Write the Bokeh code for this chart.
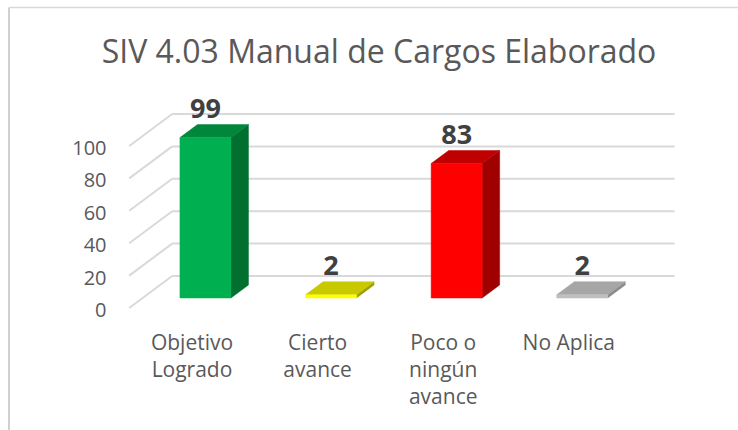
from bokeh.plotting import figure
from bokeh.models import Range1d, Label
from bokeh.core.properties import value
from bokeh.embed import file_html
from bokeh.resources import INLINE

# ---- data ----
title_text = "SIV 4.03 Manual de Cargos Elaborado"
categories = ["Objetivo\nLogrado", "Cierto\navance", "Poco o\nningún\navance", "No Aplica"]
values = [99, 2, 83, 2]
y_ticks = [0, 20, 40, 60, 80, 100]

# ---- styles ----
front_colors = ["#00B050", "#FFFF00", "#FF0000", "#BFBFBF"]
top_colors = ["#00873C", "#C9C900", "#C00000", "#A6A6A6"]
side_colors = ["#006F30", "#9E9E00", "#A00000", "#8A8A8A"]
text_gray = "#595959"
grid_gray = "#D9D9D9"
FONT = "Open Sans"

W, H = 738, 430
# layout: pixel position of category 0 / value 0 on the front plane, and scale
X0, SX = 191.5, 125.6
Y0, SY = 307.5, 1.62


def px_x(px):
    return (px - X0) / SX


def px_y(py):
    return (Y0 - py) / SY


# pseudo-3D projection (depth offsets expressed in data units)
DX = 43 / SX      # full depth horizontal shift
DY = 32 / SY      # full depth vertical shift
D_FRONT, D_BACK = 0.3125, 0.72
HALF = 0.203
X_LEFT, X_RIGHT = -0.5, len(categories) - 0.5

p = figure(width=W, height=H,
           x_range=Range1d(px_x(0), px_x(W)), y_range=Range1d(px_y(H), px_y(0)),
           output_backend="svg", toolbar_location=None,
           x_axis_location=None, y_axis_location=None,
           min_border_left=0, min_border_right=0, min_border_top=0, min_border_bottom=0)
p.grid.visible = False
p.outline_line_color = None
p.background_fill_color = "white"
p.border_fill_color = "white"

# chart area border (light gray)
p.line([px_x(8.5), px_x(8.5)], [px_y(7), px_y(H)], line_color="#D0D0D0", line_width=2)
p.line([px_x(8.5), px_x(W)], [px_y(7), px_y(7)], line_color="#D9D9D9", line_width=1.5)

# back wall gridlines and left wall diagonals
for t in y_ticks:
    p.line([X_LEFT + DX, X_RIGHT + DX], [t + DY, t + DY], line_color=grid_gray, line_width=2)
    p.line([X_LEFT, X_LEFT + DX], [t, t + DY], line_color=grid_gray, line_width=2)

# value axis labels (front plane)
p.text([px_x(106)] * len(y_ticks), y_ticks, text=[str(t) for t in y_ticks],
       text_align="right", text_baseline="middle", text_font=value(FONT),
       text_font_size="20px", text_color=text_gray, y_offset=2)

# bars
bx = (D_BACK - D_FRONT) * DX
by = (D_BACK - D_FRONT) * DY
fx, fy, tx, ty, sx, sy = [], [], [], [], [], []
lx, ly, lt = [], [], []
for i, v in enumerate(values):
    x0 = i - HALF + D_FRONT * DX
    x1 = i + HALF + D_FRONT * DX
    y0 = D_FRONT * DY
    y1 = y0 + v
    fx.append([x0, x1, x1, x0]); fy.append([y0, y0, y1, y1])
    tx.append([x0, x1, x1 + bx, x0 + bx]); ty.append([y1, y1, y1 + by, y1 + by])
    sx.append([x1, x1 + bx, x1 + bx, x1]); sy.append([y0, y0 + by, y1 + by, y1])
    lx.append(i + D_FRONT * DX); ly.append(y1 + 29 / SY); lt.append(str(v))

p.patches(sx, sy, fill_color=side_colors, line_color=side_colors, line_width=0.5)
p.patches(tx, ty, fill_color=top_colors, line_color=top_colors, line_width=0.5)
p.patches(fx, fy, fill_color=front_colors, line_color=front_colors, line_width=0.5)

# data labels
p.text(lx, ly, text=lt, text_align="center", text_baseline="middle",
       text_font=value(FONT), text_font_style="bold", text_font_size="27px",
       text_color="#404040")

# category labels
p.text(list(range(len(categories))), [px_y(327)] * len(categories), text=categories,
       text_align="center", text_baseline="top", text_font=value(FONT),
       text_font_size="21px", text_color=text_gray, text_line_height=0.97)

# title
p.add_layout(Label(x=px_x(378.5), y=px_y(50), text=title_text, text_align="center",
                   text_baseline="middle", text_font=FONT, text_font_size="32px",
                   text_color=text_gray))

open("out.html", "w").write(file_html(p, INLINE))
